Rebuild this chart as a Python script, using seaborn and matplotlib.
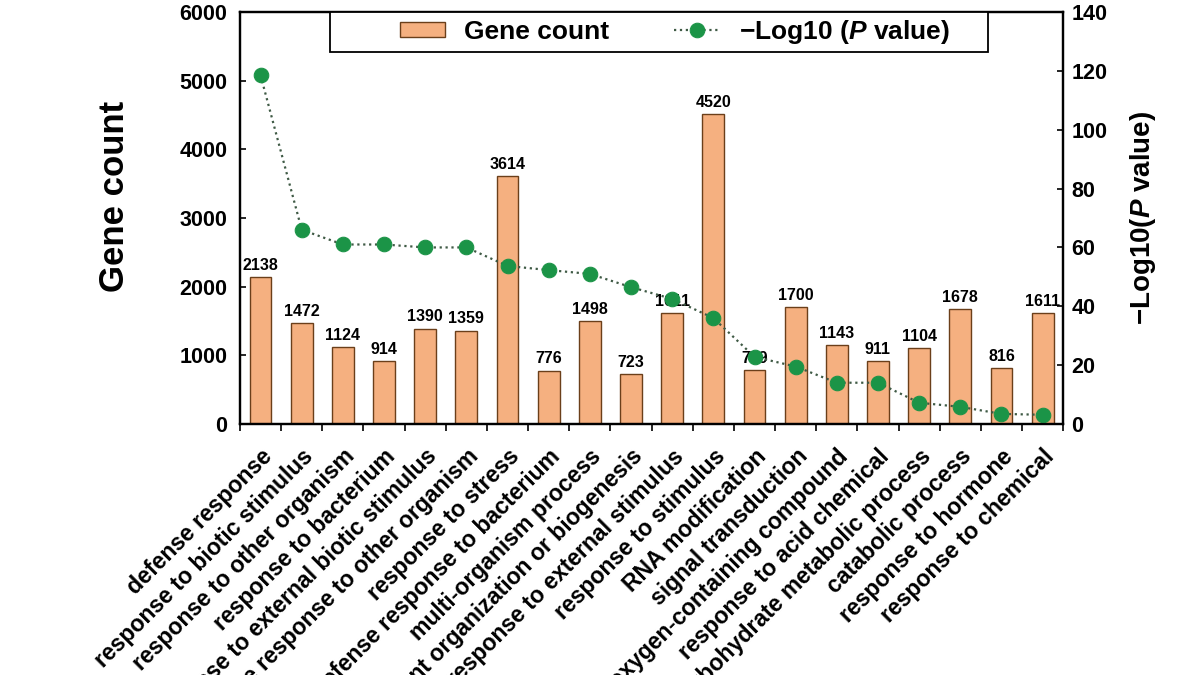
import numpy as np
import pandas as pd
import matplotlib
matplotlib.use("Agg")
import matplotlib.pyplot as plt
from matplotlib.patches import Rectangle
import seaborn as sns

# GO terms (labels run off the bottom of the picture, as in the original)
terms = [
    "defense response",
    "response to biotic stimulus",
    "response to other organism",
    "response to bacterium",
    "response to external biotic stimulus",
    "defense response to other organism",
    "response to stress",
    "defense response to bacterium",
    "multi-organism process",
    "cellular component organization or biogenesis",
    "response to external stimulus",
    "response to stimulus",
    "RNA modification",
    "signal transduction",
    "response to oxygen-containing compound",
    "response to acid chemical",
    "carbohydrate metabolic process",
    "catabolic process",
    "response to hormone",
    "response to chemical",
]
gene_count = [2138, 1472, 1124, 914, 1390, 1359, 3614, 776, 1498, 723,
              1611, 4520, 779, 1700, 1143, 911, 1104, 1678, 816, 1611]
neg_log_p = [118.5, 66, 61, 61, 60, 60, 53.7, 52.3, 51, 46.5,
             42.5, 36, 22.8, 19.5, 14, 14, 7.2, 5.8, 3.4, 3.1]

df = pd.DataFrame({"term": terms, "count": gene_count, "logp": neg_log_p})

sns.set_style("ticks")
plt.rcParams["font.family"] = ["Liberation Sans", "DejaVu Sans"]
plt.rcParams["font.weight"] = "bold"
plt.rcParams["text.color"] = "black"
plt.rcParams["axes.labelcolor"] = "black"
plt.rcParams["xtick.color"] = "black"
plt.rcParams["ytick.color"] = "black"
plt.rcParams["mathtext.fontset"] = "custom"
plt.rcParams["mathtext.it"] = "Liberation Sans:italic:bold"
plt.rcParams["mathtext.rm"] = "Liberation Sans:bold"

fig = plt.figure(figsize=(12, 6.75), dpi=100)
ax = fig.add_axes([0.2, 0.372, 0.686, 0.610])

bar_color = "#F5B080"
sns.barplot(data=df, x="term", y="count", color=bar_color, width=0.53,
            edgecolor="#6b3f1a", linewidth=1.0, saturation=1, ax=ax,
            label="Gene count")
if ax.get_legend() is not None:
    ax.get_legend().remove()
ax.bar_label(ax.containers[0], fontsize=11.5, fontweight="bold", padding=3)

ax2 = ax.twinx()
sns.lineplot(x=np.arange(len(terms)), y=df["logp"], ax=ax2, color="#3f5a45",
             linestyle=":", linewidth=1.6, marker="o", markersize=10.5,
             markerfacecolor="#1b9447", markeredgecolor="#1b9447",
             label="\u2212Log10 ($P$ value)", legend=False)

ax.set_ylim(0, 6000)
ax2.set_ylim(0, 140)
ax.set_xlim(-0.5, len(terms) - 0.5)
ax.set_yticks(range(0, 6001, 1000))
ax2.set_yticks(range(0, 141, 20))

ax.set_xlabel("")
ax.set_ylabel("Gene count", fontsize=25, fontweight="bold")
ax.yaxis.set_label_coords(-0.132, 0.553)
ax2.set_ylabel("\u2212Log10($P$ value)", fontsize=20, fontweight="bold", labelpad=15)

# category labels at bar centres, tick marks at boundaries
ax.set_xticks(np.arange(len(terms)))
ax.set_xticklabels(terms, rotation=45, ha="right", rotation_mode="anchor",
                   fontsize=16.6, fontweight="bold")
ax.tick_params(axis="x", which="major", length=0, pad=15)
ax.set_xticks(np.arange(len(terms) + 1) - 0.5, minor=True)
ax.tick_params(axis="x", which="minor", length=5, width=1.2, direction="out")

ax.tick_params(axis="y", direction="in", length=4, width=1.2, labelsize=15.5, pad=9)
ax2.tick_params(axis="y", direction="in", length=4, width=1.2, labelsize=15.5, pad=6)
for t in ax.get_yticklabels() + ax2.get_yticklabels():
    t.set_fontweight("bold")

for a in (ax, ax2):
    for s in a.spines.values():
        s.set_linewidth(1.6)
        s.set_color("black")

# legend box (wider than its contents, as in the original)
ax2.add_patch(Rectangle((0.109, 0.903), 0.8, 0.097, transform=ax2.transAxes,
                        facecolor="white", edgecolor="black", linewidth=1.3,
                        zorder=5, clip_on=False))
h1, l1 = ax.get_legend_handles_labels()
h2, l2 = ax2.get_legend_handles_labels()
leg = ax2.legend(h1 + h2, l1 + l2, loc="center left", ncol=2,
                 bbox_to_anchor=(0.194, 0.952), frameon=False,
                 prop={"size": 19, "weight": "bold"},
                 columnspacing=2.45, handlelength=1.7, handleheight=0.5,
                 borderpad=0, borderaxespad=0, handletextpad=0.75)
leg.set_zorder(6)

fig.savefig("out.png", dpi=100)
